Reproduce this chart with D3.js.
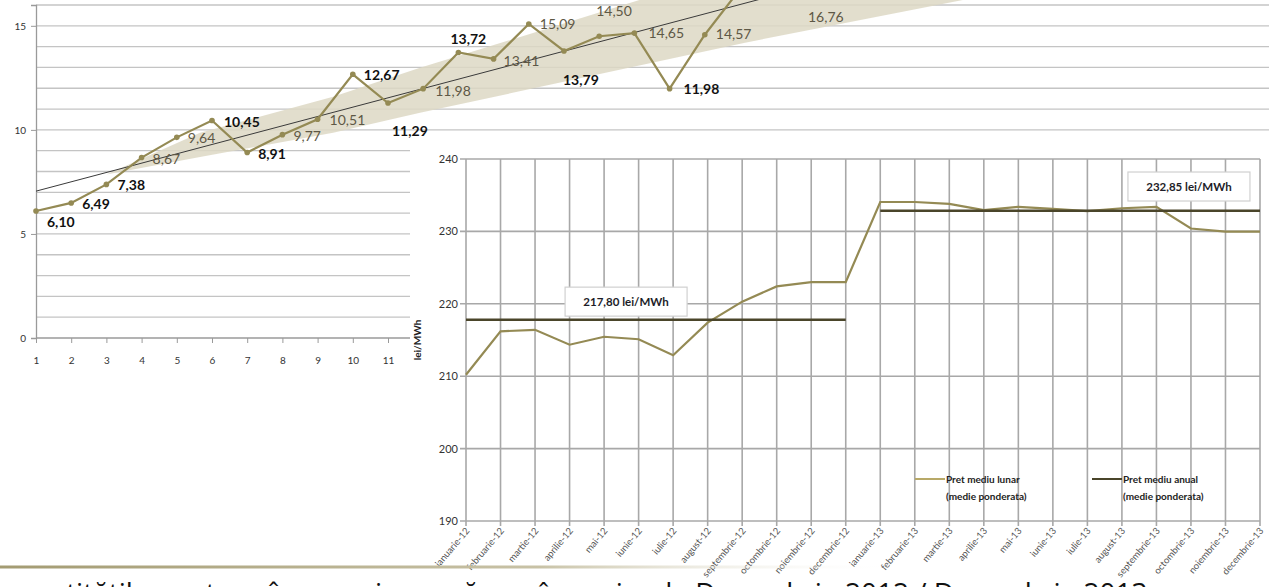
<!DOCTYPE html>
<html><head><meta charset="utf-8">
<script src="https://cdn.jsdelivr.net/npm/d3@7"></script>
<style>body{margin:0;background:#fff;} svg{display:block;font-family:Lato,"Open Sans",sans-serif;}</style>
</head><body><svg id="c" width="1269" height="587"></svg>
<script>
// ---------- data: background chart ----------
const leftCategories = d3.range(1, 22);
const leftTickLabels = [1,2,3,4,5,6,7,8,9,10,11];
const leftYTicks = [0,5,10,15];
const leftValues = [6.10,6.49,7.38,8.67,9.64,10.45,8.91,9.77,10.51,12.67,11.29,11.98,13.72,13.41,15.09,13.79,14.50,14.65,11.98,14.57,16.76];
const leftLabelTone = ["b","b","b","g","g","b","b","g","g","b","b","g","b","g","g","b","g","g","b","g","g"];
const bandTip = [3.0, 7.86];
const bandUpper = [[5.66,9.86],[9.44,11.59],[11.91,12.98],[18.16,16.25],[20.4,17.4]];
const bandLower = [[5.66,8.70],[9.44,9.86],[11.91,10.82],[21.11,14.18],[27.36,16.25],[29.5,17.1]];

// ---------- data: foreground chart ----------
const months = ["ianuarie-12","februarie-12","martie-12","aprilie-12","mai-12","iunie-12","iulie-12","august-12","septembrie-12","octombrie-12","noiembrie-12","decembrie-12",
                "ianuarie-13","februarie-13","martie-13","aprilie-13","mai-13","iunie-13","iulie-13","august-13","septembrie-13","octombrie-13","noiembrie-13","decembrie-13"];
const monthlyPrice = [210.2,216.2,216.4,214.35,215.45,215.1,212.9,217.4,220.3,222.4,223.0,223.0,
                      234.06,234.06,233.8,232.95,233.4,233.1,232.8,233.2,233.4,230.4,229.96,229.96];
const annualValues = [217.80, 232.85];
const annualStart = ["ianuarie-12","ianuarie-13"];
const annualEnd = ["decembrie-12","decembrie-13"];
const annualLabels = ["217,80 lei/MWh","232,85 lei/MWh"];
const rightYTicks = [190,200,210,220,230,240];
const legendNames = [["Pret mediu lunar","(medie ponderata)"],["Pret mediu anual","(medie ponderata)"]];
const footerText = "cantitățile pentru vânzare și cumpărare în perioada Decembrie 2012 / Decembrie 2013";

// ---------- drawing ----------
const svg = d3.select("#c");
const W = 1269, H = 587;
svg.append("rect").attr("width",W).attr("height",H).attr("fill","#fff");
const fmt = v => d3.format(".2f")(v).replace(".", ",");
const olive = "#948a54", darkOlive = "#4a452a";

// Left (background) chart
const xL = d3.scaleLinear().domain([1,11]).range([36,388]);
const yL = d3.scaleLinear().domain([0,16]).range([338,5]);
const gL = svg.append("g");
gL.selectAll("line.gh").data(d3.range(1,17)).join("line")
  .attr("x1",xL(1)).attr("x2",W).attr("y1",d=>yL(d)).attr("y2",d=>yL(d))
  .attr("stroke","#c4c4c4").attr("stroke-width",1.3);
const bandPts = [bandTip, ...bandUpper, ...bandLower.slice().reverse()];
gL.append("path").attr("d", d3.line().x(d=>xL(d[0])).y(d=>yL(d[1]))(bandPts)+"Z")
  .attr("fill","#ddd8c4").attr("opacity",0.85);
const axY = d3.axisLeft(yL).tickValues(leftYTicks).tickSize(5).tickPadding(5);
const gy = gL.append("g").attr("transform",`translate(${xL(1)},0)`).call(axY);
gy.select(".domain").attr("stroke","#9a9a9a").attr("stroke-width",1.3);
gy.selectAll(".tick line").attr("stroke","#9a9a9a");
gy.selectAll("text").attr("font-size",10).attr("fill","#333").attr("font-family","Lato");
const axX = d3.axisBottom(xL).tickValues(leftTickLabels).tickSize(5).tickPadding(14).tickSizeOuter(0);
const gx = gL.append("g").attr("transform",`translate(0,${yL(0)})`).call(axX);
gx.select(".domain").attr("stroke","#9a9a9a").attr("stroke-width",1.3).attr("d",`M${xL(1)},0H${W}`);
gx.selectAll(".tick line").attr("stroke","#9a9a9a");
gx.selectAll("text").attr("font-size",10).attr("fill","#333").attr("font-family","Lato");
// trend line (least squares on the series)
const mx = d3.mean(leftCategories), my = d3.mean(leftValues);
const slope = d3.sum(leftCategories.map((x,i)=>(x-mx)*(leftValues[i]-my))) / d3.sum(leftCategories.map(x=>(x-mx)*(x-mx)));
const icpt = my - slope*mx;
gL.append("line").attr("x1",xL(1)).attr("y1",yL(icpt+slope*1))
  .attr("x2",xL(24)).attr("y2",yL(icpt+slope*24))
  .attr("stroke","#3a3a3a").attr("stroke-width",1);
gL.append("path").datum(leftValues)
  .attr("d", d3.line().x((d,i)=>xL(leftCategories[i])).y(d=>yL(d)))
  .attr("fill","none").attr("stroke",olive).attr("stroke-width",2.2);
gL.selectAll("circle").data(leftValues).join("circle")
  .attr("cx",(d,i)=>xL(leftCategories[i])).attr("cy",d=>yL(d)).attr("r",2.8).attr("fill",olive);
const labelOffsets = [[11,16],[11,6],[11,6],[11,6],[11,6],[12,6],[11,6],[11,6],[12,6],[11,6],[4,33],[12,7],[-8,-8],[10,7],[11,5],[-1,34],[-3,-20],[14,5],[14,5],[11,4],[68,33]];
gL.selectAll("text.dl").data(leftValues).join("text").attr("class","dl")
  .attr("x",(d,i)=>xL(leftCategories[i])+labelOffsets[i][0])
  .attr("y",(d,i)=>yL(d)+labelOffsets[i][1])
  .attr("font-size",14)
  .attr("font-weight",(d,i)=>leftLabelTone[i]==="b"?700:400)
  .attr("fill",(d,i)=>leftLabelTone[i]==="b"?"#111":"#5e5845")
  .text(d=>fmt(d));

// Foreground chart
svg.append("rect").attr("x",410).attr("y",140).attr("width",W-410).attr("height",H-140).attr("fill","#fff");
const xR = d3.scalePoint().domain(months).range([466,1260]);
const yR = d3.scaleLinear().domain([190,240]).range([521,159]);
const gR = svg.append("g");
const gridC = "#a8a8a8";
gR.selectAll("line.vg").data(months).join("line")
  .attr("x1",d=>xR(d)).attr("x2",d=>xR(d)).attr("y1",yR(240)).attr("y2",yR(190)+5)
  .attr("stroke",gridC).attr("stroke-width",1.6);
gR.selectAll("line.hg").data(rightYTicks).join("line")
  .attr("x1",xR(months[0])-6).attr("x2",xR(months[months.length-1])).attr("y1",d=>yR(d)).attr("y2",d=>yR(d))
  .attr("stroke",gridC).attr("stroke-width",1.6);
gR.selectAll("text.yt").data(rightYTicks).join("text")
  .attr("x",xR(months[0])-8).attr("y",d=>yR(d)+4).attr("text-anchor","end")
  .attr("font-size",11).attr("fill","#333").text(d=>d);
gR.append("text").attr("transform",`translate(421,340) rotate(-90)`).attr("text-anchor","middle")
  .attr("font-size",10).attr("font-weight",700).attr("fill","#222").text("lei/MWh");
gR.append("path").datum(monthlyPrice)
  .attr("d", d3.line().x((d,i)=>xR(months[i])).y(d=>yR(d)))
  .attr("fill","none").attr("stroke",olive).attr("stroke-width",2.2);
gR.selectAll("line.an").data(annualValues).join("line")
  .attr("x1",(d,i)=>xR(annualStart[i])).attr("x2",(d,i)=>xR(annualEnd[i]))
  .attr("y1",d=>yR(d)).attr("y2",d=>yR(d))
  .attr("stroke",darkOlive).attr("stroke-width",2.6);
const boxAnchor = [[months[4],220.3,22],[months[21],236.2,-2]];
annualLabels.forEach((t,i)=>{
  const cx = xR(boxAnchor[i][0]) + boxAnchor[i][2], cy = yR(boxAnchor[i][1]);
  const g = gR.append("g");
  g.append("rect").attr("fill","#fff").attr("stroke","#d0d0d0").attr("stroke-width",1.2)
    .attr("x",cx-61).attr("y",cy-14.5).attr("width",122).attr("height",29);
  g.append("text").attr("x",cx).attr("y",cy+4).attr("text-anchor","middle")
    .attr("font-size",11.5).attr("font-weight",700).attr("fill","#1d1d28").text(t);
});
const legendX = [915, 1092], legendY = 479;
legendNames.forEach((n,i)=>{
  gR.append("line").attr("x1",legendX[i]).attr("x2",legendX[i]+30).attr("y1",legendY).attr("y2",legendY)
    .attr("stroke", i===0?"#b8a968":darkOlive).attr("stroke-width",2);
  n.forEach((s,j)=>gR.append("text").attr("x",legendX[i]+31).attr("y",legendY+4+j*17)
    .attr("font-size",10).attr("font-weight",700).attr("fill","#222").text(s));
});
const grad = svg.append("defs").append("linearGradient").attr("id","sep").attr("x1","0").attr("x2","1");
grad.append("stop").attr("offset","0").attr("stop-color","#a39b72");
grad.append("stop").attr("offset","0.6").attr("stop-color","#c8c2a6");
grad.append("stop").attr("offset","1").attr("stop-color","#ffffff").attr("stop-opacity",0);
svg.append("rect").attr("x",0).attr("y",565.5).attr("width",900).attr("height",3).attr("fill","url(#sep)");
svg.append("text").attr("x",20).attr("y",603).attr("font-size",28).attr("fill","#111")
  .attr("font-family","'Open Sans',sans-serif").text(footerText);
gR.selectAll("text.xl").data(months).join("text")
  .attr("transform",d=>`translate(${xR(d)+4},531) rotate(-50)`).attr("text-anchor","end")
  .attr("font-size",9.5).attr("fill","#555").text(d=>d);
</script></body></html>
